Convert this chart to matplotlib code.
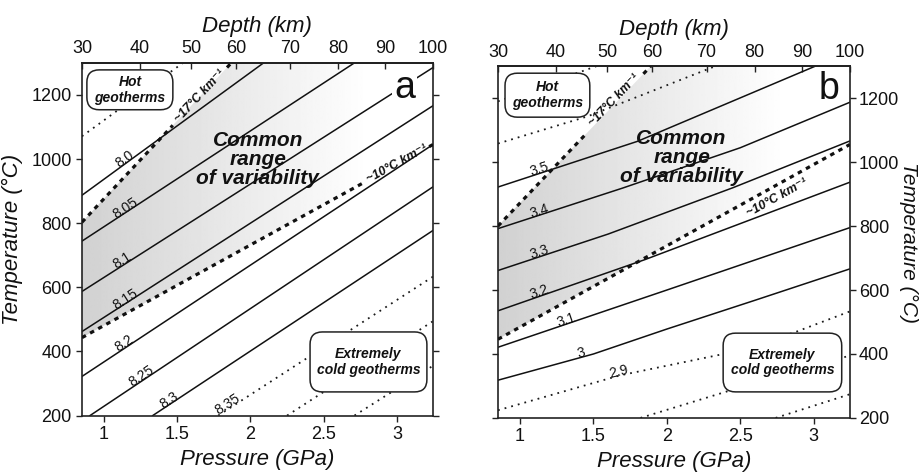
import numpy as np
import matplotlib
matplotlib.use('Agg')
import matplotlib.pyplot as plt
from matplotlib.patches import FancyBboxPatch, Polygon

plt.rcParams['font.family'] = ['Liberation Sans', 'DejaVu Sans']

# ---------------- axes / ticks ----------------
P_LIM = (0.85, 3.245)
T_LIM = (200, 1300)
pressure_ticks = [1, 1.5, 2, 2.5, 3]
pressure_ticklabels = ['1', '1.5', '2', '2.5', '3']
temp_ticks = [200, 400, 600, 800, 1000, 1200]
depth_labels = [30, 40, 50, 60, 70, 80, 90, 100]
depth_tick_P = [0.85, 1.246, 1.594, 1.901, 2.270, 2.597, 2.918, 3.245]

# ---------------- panel a contours ----------------
a_levels = ['7.95', '8.0', '8.05', '8.1', '8.15', '8.2', '8.25', '8.3', '8.35', '8.4', '8.45']
a_dotted = [True, False, False, False, False, False, False, False, True, True, True]
a_P = [[0.85, 1.54], [0.85, 2.09], [0.85, 2.71], [0.85, 3.245], [0.85, 3.245],
       [0.85, 3.245], [0.905, 3.245], [1.333, 3.245], [1.78, 3.245], [2.25, 3.245],
       [2.71, 3.245]]
a_T = [[1071, 1300], [887, 1300], [744, 1300], [587, 1285], [462, 1166],
       [322, 1045], [200, 913], [200, 777], [200, 633], [200, 494], [200, 355]]
a_label_P = [None, 1.157, 1.16, 1.14, 1.16, 1.157, 1.27, 1.46, 1.86, None, None]

a_geo17_P = [0.85, 1.87]
a_geo17_T = [803, 1300]
a_geo10_P = [0.85, 3.245]
a_geo10_T = [443, 1045]

# ---------------- panel b contours ----------------
b_levels = ['3.7', '3.6', '3.5', '3.4', '3.3', '3.2', '3.1', '3', '2.9', '2.8', '2.7']
b_dotted = [True, True, False, False, False, False, False, False, True, True, True]
b_P = [[0.85, 1.52],
       [0.85, 1.46, 2.33],
       [0.85, 1.80, 3.01],
       [0.85, 1.70, 2.50, 3.245],
       [0.85, 1.60, 2.45, 3.245],
       [0.85, 1.85, 3.245],
       [0.85, 2.00, 3.245],
       [0.85, 1.50, 2.00, 2.60, 3.245],
       [0.85, 1.68, 2.365, 2.86, 3.245],
       [1.82, 2.41, 3.245],
       [2.74, 3.245]]
b_T = [[1190, 1300],
       [1058, 1143, 1300],
       [922, 1065, 1300],
       [792, 919, 1045, 1187],
       [661, 775, 920, 1066],
       [535, 695, 937],
       [421, 600, 795],
       [318, 400, 478, 568, 666],
       [224, 333, 398, 466, 533],
       [200, 283, 395],
       [200, 274]]
b_label_P = [None, None, 1.14, 1.14, 1.14, 1.14, 1.32, 1.42, 1.68, None, None]

b_geo17_P = [0.85, 1.89]
b_geo17_T = [800, 1300]
b_geo10_P = [0.85, 3.245]
b_geo10_T = [446, 1055]

# ---------------- figure ----------------
fig = plt.figure(figsize=(9.21, 4.76), dpi=100)
ax_a = fig.add_axes([0.089, 0.127, 0.381, 0.741])
ax_b = fig.add_axes([0.5407, 0.122, 0.382, 0.739])

TXT = '#111111'


def screen_angle(ax, P, T, p0, d=0.05):
    t0 = np.interp(p0 - d, P, T)
    t1 = np.interp(p0 + d, P, T)
    (x0, y0), (x1, y1) = ax.transData.transform([(p0 - d, t0), (p0 + d, t1)])
    return np.degrees(np.arctan2(y1 - y0, x1 - x0))


def split_gap(P, T, gap):
    P = np.asarray(P, float)
    T = np.asarray(T, float)
    if gap is None:
        return [(P, T)]
    g0, g1 = gap
    s1P = np.r_[P[P < g0], g0]
    s1T = np.r_[T[P < g0], np.interp(g0, P, T)]
    segs = [(s1P, s1T)]
    if g1 < P[-1]:
        s2P = np.r_[g1, P[P > g1]]
        s2T = np.r_[np.interp(g1, P, T), T[P > g1]]
        segs.append((s2P, s2T))
    return segs


def setup_axes(ax, right_labels):
    ax.set_xlim(*P_LIM)
    ax.set_ylim(*T_LIM)
    ax.set_xticks(pressure_ticks, labels=pressure_ticklabels)
    ax.set_yticks(temp_ticks)
    for s in ax.spines.values():
        s.set_linewidth(1.2)
        s.set_color('#222222')
    ax.tick_params(axis='both', direction='out', length=4.5, width=1.0,
                   labelsize=13, colors='#222222', labelcolor=TXT, pad=3)
    ax.tick_params(axis='y', left=True, right=True,
                   labelleft=not right_labels, labelright=right_labels)
    ax.set_xlabel('Pressure (GPa)', fontsize=16, style='italic', color=TXT, labelpad=4)
    if right_labels:
        ax.tick_params(axis='y', pad=2)
        ax.yaxis.set_label_position('right')
        ax.set_ylabel('Temperature (°C)', fontsize=15, style='italic', color=TXT,
                      rotation=270, labelpad=0, va='bottom')
    else:
        ax.set_ylabel('Temperature (°C)', fontsize=16, style='italic', color=TXT, labelpad=6)
    sec = ax.secondary_xaxis('top')
    sec.set_xticks(depth_tick_P, labels=[str(d) for d in depth_labels])
    sec.tick_params(direction='in', length=4, width=1.0, labelsize=13,
                    colors='#222222', labelcolor=TXT, pad=4)
    sec.spines['top'].set_linewidth(1.2)
    sec.set_xlabel('Depth (km)', fontsize=16, style='italic', color=TXT, labelpad=6)


def shade(ax, g17P, g17T, g10P, g10T):
    verts = [(g17P[0], g17T[0]), (g17P[-1], g17T[-1]), (P_LIM[1], T_LIM[1]),
             (g10P[-1], g10T[-1]), (g10P[0], g10T[0])]
    poly = Polygon(verts, closed=True, transform=ax.transData,
                   facecolor='none', edgecolor='none')
    ax.add_patch(poly)
    grad = np.clip(np.linspace(0.82, 1.04, 300), 0, 1)[None, :]
    im = ax.imshow(grad, extent=[P_LIM[0], P_LIM[1], T_LIM[0], T_LIM[1]],
                   aspect='auto', cmap='gray', vmin=0, vmax=1, zorder=0,
                   interpolation='bilinear')
    im.set_clip_path(poly)
    ax.set_xlim(*P_LIM)
    ax.set_ylim(*T_LIM)


def draw_contours(ax, levels, Ps, Ts, dotted, label_P):
    for lev, P, T, dt, lp in zip(levels, Ps, Ts, dotted, label_P):
        if dt:
            ax.plot(P, T, color='#1a1a1a', lw=1.3, linestyle=(0, (1, 2.8)),
                    zorder=2, clip_on=True)
        else:
            ax.plot(P, T, color='#111111', lw=1.1, zorder=2)
        if lp is not None:
            ang = screen_angle(ax, P, T, lp)
            ax.text(lp, np.interp(lp, P, T), lev, fontsize=10, color=TXT,
                    rotation=ang, rotation_mode='anchor', ha='center',
                    va='baseline', zorder=4)


def draw_geotherm(ax, P, T, gap, label, lab_P, lab_dT):
    for sp, st in split_gap(P, T, gap):
        ax.plot(sp, st, color='#111111', lw=2.3, linestyle=(0, (1.4, 1.5)),
                zorder=3, solid_capstyle='butt', dash_capstyle='butt')
    ang = screen_angle(ax, P, T, lab_P)
    ax.text(lab_P, np.interp(lab_P, P, T) + lab_dT, label, fontsize=9,
            weight='bold', style='italic', color=TXT, rotation=ang,
            rotation_mode='anchor', ha='center', va='center', zorder=4)


def boxes(ax, hot, cold, common_xy):
    for (x0, y0, x1, y1), txt in ((hot, 'Hot\ngeotherms'),
                                  (cold, 'Extremely\ncold geotherms')):
        bx = FancyBboxPatch((x0, y0), x1 - x0, y1 - y0,
                            boxstyle='round,pad=0,rounding_size=0.035',
                            transform=ax.transAxes, facecolor='white',
                            edgecolor='#222222', lw=1.1, zorder=5)
        ax.add_patch(bx)
        ax.text((x0 + x1) / 2, (y0 + y1) / 2, txt, transform=ax.transAxes,
                ha='center', va='center', fontsize=10, weight='bold',
                style='italic', color=TXT, linespacing=1.15, zorder=6)
    ax.text(common_xy[0], common_xy[1], 'Common\nrange\nof variability',
            transform=ax.transAxes, ha='center', va='center', fontsize=15,
            weight='bold', style='italic', color=TXT, linespacing=1.0, zorder=1.5)


# ---------- panel a ----------
setup_axes(ax_a, right_labels=False)
shade(ax_a, a_geo17_P, a_geo17_T, a_geo10_P, a_geo10_T)
draw_contours(ax_a, a_levels, a_P, a_T, a_dotted, a_label_P)
draw_geotherm(ax_a, a_geo17_P, a_geo17_T, (1.47, 1.84), '~17°C km⁻¹', 1.655, 0)
draw_geotherm(ax_a, a_geo10_P, a_geo10_T, (2.76, 3.22), '~10°C km⁻¹', 3.0, 0)
boxes(ax_a, (0.014, 0.867, 0.259, 0.980), (0.650, 0.067, 0.983, 0.237), (0.501, 0.725))
ax_a.text(0.92, 0.93, 'a', transform=ax_a.transAxes, fontsize=27, ha='center',
          va='center', color=TXT, zorder=6,
          bbox=dict(boxstyle='square,pad=0.05', fc='white', ec='none'))

# ---------- panel b ----------
setup_axes(ax_b, right_labels=True)
shade(ax_b, b_geo17_P, b_geo17_T, b_geo10_P, b_geo10_T)
draw_contours(ax_b, b_levels, b_P, b_T, b_dotted, b_label_P)
draw_geotherm(ax_b, b_geo17_P, b_geo17_T, (1.45, 1.84), '~17°C km⁻¹', 1.64, 12)
draw_geotherm(ax_b, b_geo10_P, b_geo10_T, None, '~10°C km⁻¹', 2.75, -40)
boxes(ax_b, (0.020, 0.855, 0.261, 0.980), (0.640, 0.074, 0.977, 0.241), (0.522, 0.739))
ax_b.text(0.94, 0.935, 'b', transform=ax_b.transAxes, fontsize=27, ha='center',
          va='center', color=TXT, zorder=6)

fig.savefig('out.png', dpi=100)
